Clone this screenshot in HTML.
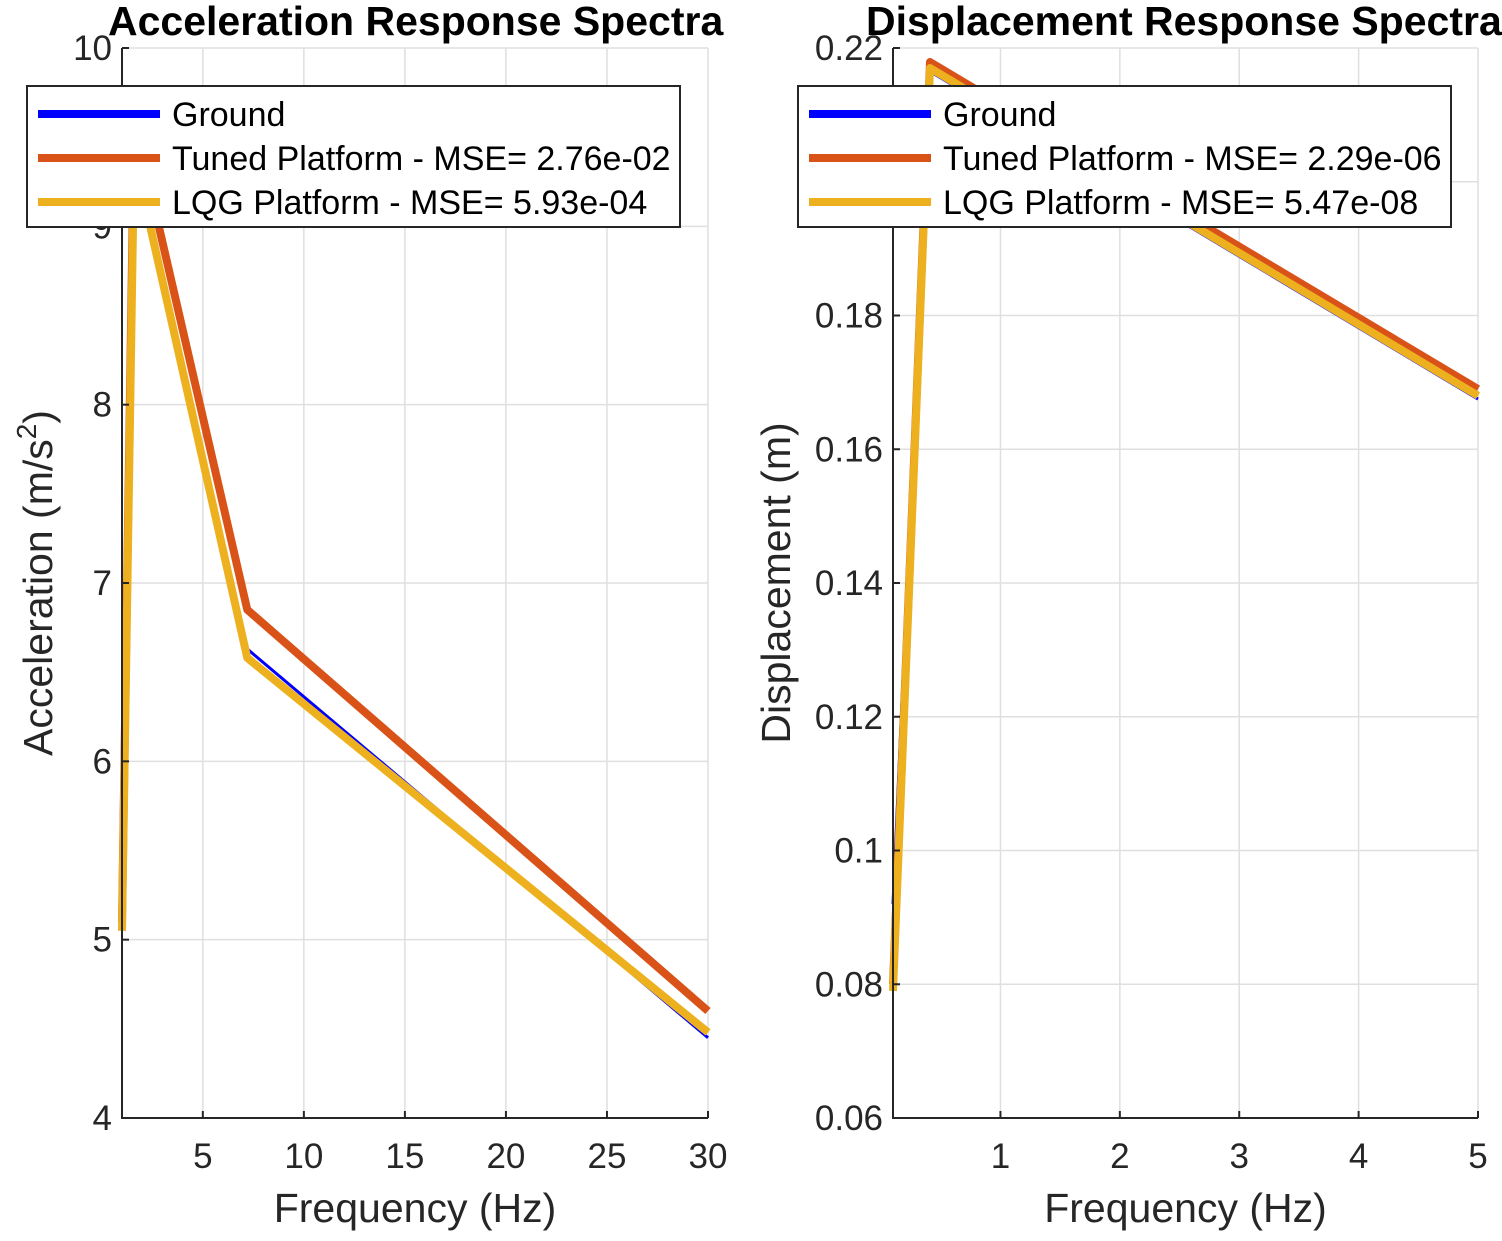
<!DOCTYPE html>
<html><head><meta charset="utf-8"><style>
body{margin:0;background:#fff;}
svg text{font-family:"Liberation Sans",Arial,sans-serif;fill:#262626;}
</style></head><body>
<svg id="c" width="1502" height="1236" viewBox="0 0 1502 1236" xmlns="http://www.w3.org/2000/svg"></svg>
<script>
// Left chart data
const accX = [1, 1.6, 7.2, 30];
const accGround = [5.1, 9.4, 6.63, 4.45];
const accTuned = [5.1, 9.6, 6.85, 4.6];
const accLqg = [5.05, 9.4, 6.58, 4.48];
const accXTicks = [5, 10, 15, 20, 25, 30];
const accYTicks = [4, 5, 6, 7, 8, 9, 10];
// Right chart data
const dispX = [0.1, 0.41, 5];
const dispGround = [0.092, 0.2165, 0.1675];
const dispTuned = [0.08, 0.2179, 0.169];
const dispLqg = [0.079, 0.217, 0.168];
const dispXTicks = [1, 2, 3, 4, 5];
const dispYTicks = [0.06, 0.08, 0.1, 0.12, 0.14, 0.16, 0.18, 0.2, 0.22];
const legendNames = ["Ground", "Tuned Platform - MSE= 2.76e-02", "LQG Platform - MSE= 5.93e-04"];
const legendNames2 = ["Ground", "Tuned Platform - MSE= 2.29e-06", "LQG Platform - MSE= 5.47e-08"];

const NS = "http://www.w3.org/2000/svg";
const svg = document.getElementById('c');
function mk(tag, attrs, parent, text){
  const e = document.createElementNS(NS, tag);
  for (const k in attrs) e.setAttribute(k, attrs[k]);
  if (text !== undefined) e.textContent = text;
  (parent || svg).appendChild(e);
  return e;
}
function fmt(v){ return String(+v.toFixed(2)); }

function chart(o){
  const g = mk('g', {});
  
  
  const sx = v => o.x0 + (v - o.xmin) / (o.xmax - o.xmin) * (o.x1 - o.x0);
  const sy = v => o.y1 - (v - o.ymin) / (o.ymax - o.ymin) * (o.y1 - o.y0);
  o.xt.forEach(t => { const l = mk('line', {x1:sx(t), x2:sx(t), y1:o.y0, y2:o.y1, stroke:'#dfdfdf', 'stroke-width':1.5}, g);
      });
  o.yt.forEach(t => { const l = mk('line', {x1:o.x0, x2:o.x1, y1:sy(t), y2:sy(t), stroke:'#dfdfdf', 'stroke-width':1.5}, g);
      });
  const series = [[o.g, '#0000ff', 3, 'ground-line'], [o.t, '#d95319', 8, 'tuned-line'], [o.l, '#edb120', 8, 'lqg-line']];
  series.forEach(s => {
    const p = mk('polyline', {points: o.xs.map((x, i) => sx(x) + ',' + sy(s[0][i])).join(' '), fill:'none', stroke:s[1], 'stroke-width':s[2], 'stroke-linejoin':'round'}, g);
    
    
  });
  const ax = mk('path', {d:`M${o.x0},${o.y0} V${o.y1} H${o.x1}`, fill:'none', stroke:'#262626', 'stroke-width':2}, g);
  
  
  o.xt.forEach(t => {
    mk('line', {x1:sx(t), x2:sx(t), y1:o.y1, y2:o.y1 - 7, stroke:'#262626', 'stroke-width':2}, g);
    const tx = mk('text', {x:sx(t), y:o.y1 + 50, 'font-size':35, 'text-anchor':'middle'}, g, fmt(t));
     
  });
  o.yt.forEach(t => {
    mk('line', {x1:o.x0, x2:o.x0 + 7, y1:sy(t), y2:sy(t), stroke:'#262626', 'stroke-width':2}, g);
    const tx = mk('text', {x:o.x0 - 10, y:sy(t) + 12, 'font-size':35, 'text-anchor':'end'}, g, fmt(t));
     
  });
  const tt = mk('text', {x:o.tx, y:35, 'font-size':41, 'font-weight':'bold', 'text-anchor':'start', style:'fill:#000'}, g, o.title);
   
  const xl = mk('text', {x:(o.x0 + o.x1) / 2, y:1222, 'font-size':41, 'text-anchor':'middle'}, g, 'Frequency (Hz)');
   
  const yl = mk('text', {x:0, y:0, 'font-size':41, 'text-anchor':'middle', transform:`translate(${o.ylx},${(o.y0 + o.y1) / 2}) rotate(-90)`}, g);
  yl.innerHTML = o.ylab;
   
  const lg = mk('g', {}, g);
  
  
  mk('rect', {x:o.lx, y:86, width:o.lw, height:141, fill:'#fff', stroke:'#262626', 'stroke-width':2}, lg);
  const cols = ['#0000ff', '#d95319', '#edb120'];
  o.names.forEach((n, i) => {
    const y = 114 + i * 44;
    const e = mk('g', {}, lg);
    
    
    mk('line', {x1:o.lx + 11, x2:o.lx + 133, y1:y, y2:y, stroke:cols[i], 'stroke-width':8}, e);
    mk('text', {x:o.lx + 145, y:y + 12, 'font-size':34, style:'fill:#000'}, e, n);
  });
}

chart({name:'acceleration-chart', x0:122, x1:708, y0:48, y1:1118, xmin:1, xmax:30, ymin:4, ymax:10,
  xs:accX, g:accGround, t:accTuned, l:accLqg, xt:accXTicks, yt:accYTicks, tx:108,
  title:'Acceleration Response Spectra', ylab:'Acceleration (m/s<tspan dy="-16" font-size="28">2</tspan><tspan dy="16">)</tspan>', ylx:52,
  names:legendNames, lx:27, lw:653});
chart({name:'displacement-chart', x0:893, x1:1478, y0:48, y1:1118, xmin:0.1, xmax:5, ymin:0.06, ymax:0.22,
  xs:dispX, g:dispGround, t:dispTuned, l:dispLqg, xt:dispXTicks, yt:dispYTicks, tx:866,
  title:'Displacement Response Spectra', ylab:'Displacement (m)', ylx:790,
  names:legendNames2, lx:798, lw:653});
</script>
</body></html>
